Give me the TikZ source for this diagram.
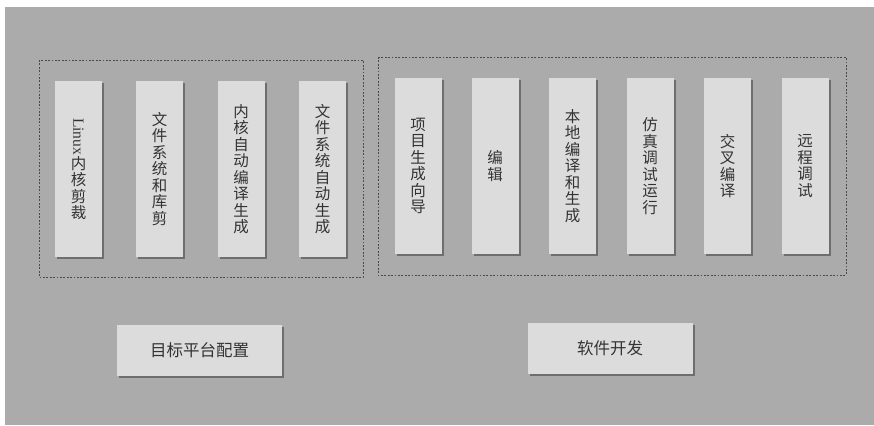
\documentclass[tikz,border=0pt]{standalone}
\usepackage{fontspec}
\setmainfont{Liberation Serif}
\newfontfamily\cjk{Noto Sans CJK SC}
\usetikzlibrary{shadows}
\definecolor{paper}{HTML}{ABABAB}
\definecolor{card}{HTML}{DCDCDC}
\definecolor{ink}{HTML}{333333}
\definecolor{frame}{HTML}{4A4A4A}
\definecolor{shade}{HTML}{6E6E6E}

\begin{document}
\begin{tikzpicture}[
  x=1pt, y=-1pt,
  stepcard/.style={
    rectangle,
    fill=card,
    draw=none,
    minimum width=47pt,
    minimum height=176pt,
    inner sep=0pt,
    align=center,
    text=ink,
    font={\cjk\fontsize{15.5pt}{16.5pt}\selectfont},
    drop shadow={shadow xshift=2pt, shadow yshift=-2pt, fill=shade, opacity=1}
  },
  areacard/.style={
    rectangle,
    fill=card,
    draw=none,
    minimum width=165pt,
    minimum height=51pt,
    text=ink,
    font={\cjk\fontsize{16.5pt}{18pt}\selectfont},
    drop shadow={shadow xshift=2pt, shadow yshift=-2pt, fill=shade, opacity=1}
  },
  groupframe/.style={
    draw=frame,
    dash pattern=on 1.8pt off 1.6pt,
    line width=0.9pt
  }
  ]

  \useasboundingbox (0,0) rectangle (874,425);
  \fill[paper] (5,7) rectangle (874,425);

  % target platform configuration
  \begin{scope}
    \draw[groupframe] (39,60) rectangle (363,277);

    \node[stepcard] (cfg-kernel-cut) at (78.5,169) {\rotatebox{-90}{\rmfamily Linux}\\内\\核\\剪\\裁};
    \node[stepcard] (cfg-fs-lib) at (159.5,169) {文\\件\\系\\统\\和\\库\\剪};
    \node[stepcard] (cfg-kernel-build) at (241,169) {内\\核\\自\\动\\编\\译\\生\\成};
    \node[stepcard] (cfg-fs-build) at (322.5,169) {文\\件\\系\\统\\自\\动\\生\\成};

    \node[areacard] (cfg-title) at (199.5,350.5) {目标平台配置};
  \end{scope}

  % software development
  \begin{scope}
    \draw[groupframe] (378,57) rectangle (846,275);

    \node[stepcard] (dev-wizard) at (418,166) {项\\目\\生\\成\\向\\导};
    \node[stepcard] (dev-edit) at (495,166) {编\\辑};
    \node[stepcard] (dev-local) at (572.5,166) {本\\地\\编\\译\\和\\生\\成};
    \node[stepcard] (dev-sim) at (650,166) {仿\\真\\调\\试\\运\\行};
    \node[stepcard] (dev-cross) at (727.5,166) {交\\叉\\编\\译};
    \node[stepcard] (dev-remote) at (805,166) {远\\程\\调\\试};

    \node[areacard] (dev-title) at (610,348.5) {软件开发};
  \end{scope}

\end{tikzpicture}
\end{document}
